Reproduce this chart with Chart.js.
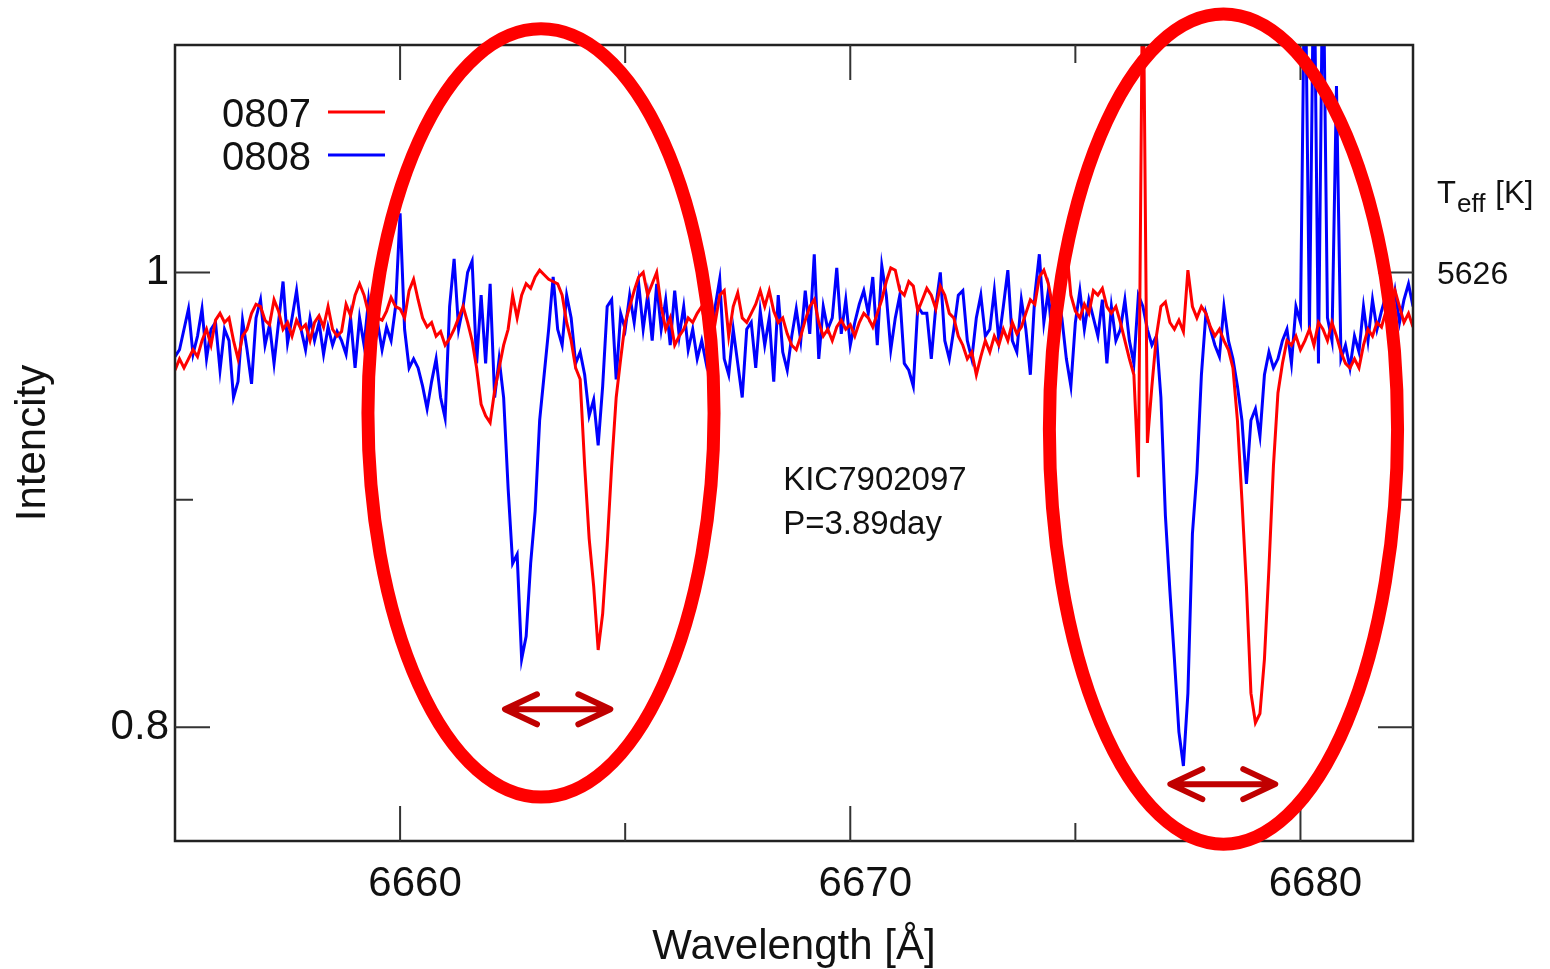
<!DOCTYPE html>
<html>
<head>
<meta charset="utf-8">
<script src="https://cdn.jsdelivr.net/npm/chart.js@4.4.1/dist/chart.umd.min.js"></script>
<style>
html,body{margin:0;padding:0;background:#fff;}
#wrap{width:1550px;height:969px;position:relative;}
</style>
</head>
<body>
<div id="wrap"><canvas id="c"></canvas></div>
<script>
// Wavelength grid of the spectra (Angstrom)
const WAVE_START = 6655.0;
const WAVE_STEP = 0.1;

// Normalised intensity, observation 0807 (red)
const series0807 = [
0.957,0.962,0.958,0.962,0.966,0.963,0.970,0.975,0.968,0.979,
0.982,0.978,0.980,0.970,0.962,0.972,0.975,0.982,0.986,0.985,
0.979,0.977,0.988,0.983,0.975,0.978,0.972,0.979,0.975,0.977,
0.970,0.978,0.981,0.976,0.985,0.975,0.972,0.974,0.986,0.981,
0.990,0.995,0.990,0.982,0.985,0.980,0.979,0.983,0.989,0.985,
0.984,0.980,0.992,0.997,0.988,0.980,0.976,0.978,0.972,0.974,
0.968,0.971,0.975,0.980,0.985,0.978,0.970,0.958,0.942,0.937,
0.934,0.948,0.958,0.968,0.975,0.990,0.980,0.990,0.995,0.993,
0.998,1.001,0.999,0.997,0.996,0.995,0.990,0.978,0.970,0.958,
0.953,0.915,0.883,0.862,0.834,0.850,0.880,0.915,0.945,0.962,
0.978,0.985,0.992,0.998,1.000,0.990,0.995,1.000,0.985,0.975,
0.980,0.968,0.972,0.975,0.980,0.978,0.982,0.985,0.975,0.983,
0.978,0.990,0.992,0.972,0.985,0.991,0.980,0.978,0.982,0.986,
0.992,0.985,0.992,0.983,0.978,0.980,0.973,0.968,0.966,0.972,
0.979,0.985,0.988,0.978,0.972,0.975,0.970,0.976,0.979,0.975,
0.977,0.972,0.978,0.982,0.980,0.976,0.982,0.988,0.996,1.002,
1.001,0.992,0.990,0.996,0.994,0.983,0.988,0.993,0.990,0.984,
0.994,0.990,0.982,0.980,0.972,0.968,0.962,0.965,0.955,0.963,
0.970,0.965,0.972,0.968,0.975,0.970,0.978,0.973,0.976,0.982,
0.988,0.986,0.998,1.001,0.995,0.985,0.992,1.004,1.012,0.990,
0.983,0.980,0.986,0.982,0.992,0.990,0.993,0.985,0.982,0.985,
0.978,0.970,0.962,0.955,0.910,1.150,0.925,0.950,0.972,0.985,
0.987,0.978,0.975,0.979,0.974,1.001,0.985,0.980,0.985,0.982,
0.976,0.972,0.975,0.970,0.966,0.958,0.935,0.900,0.862,0.815,
0.802,0.806,0.830,0.870,0.915,0.947,0.960,0.970,0.968,0.972,
0.966,0.970,0.975,0.968,0.978,0.975,0.970,0.978,0.972,0.965,
0.960,0.958,0.962,0.958,0.968,0.975,0.972,0.978,0.976,0.983,
0.986,0.992,0.985,0.978,0.982,0.976
];

// Normalised intensity, observation 0808 (blue)
const series0808 = [
0.963,0.966,0.975,0.984,0.964,0.972,0.984,0.962,0.975,0.978,
0.957,0.975,0.970,0.945,0.952,0.979,0.966,0.951,0.980,0.988,
0.968,0.977,0.960,0.978,0.996,0.969,0.980,0.992,0.975,0.966,
0.980,0.970,0.978,0.964,0.976,0.968,0.974,0.970,0.964,0.980,
0.958,0.980,0.968,0.988,0.972,0.978,0.966,0.976,0.970,0.985,
1.026,0.975,0.958,0.962,0.958,0.950,0.940,0.952,0.962,0.945,
0.936,0.985,1.006,0.975,0.985,1.000,1.005,0.960,0.990,0.960,
0.995,0.945,0.962,0.945,0.905,0.872,0.876,0.830,0.840,0.872,
0.895,0.935,0.955,0.975,0.998,0.975,0.968,0.990,0.980,0.960,
0.965,0.955,0.937,0.944,0.924,0.950,0.985,0.988,0.953,0.982,
0.975,0.990,0.978,0.995,0.975,0.990,0.970,0.995,0.975,0.988,
0.968,0.992,0.972,0.985,0.966,0.975,0.962,0.970,0.960,0.972,
0.985,0.997,0.962,0.955,0.975,0.960,0.945,0.975,0.978,0.958,
0.983,0.968,0.980,0.952,0.990,0.965,0.957,0.972,0.984,0.970,
0.992,0.973,1.008,0.962,0.985,0.975,0.980,1.002,0.973,0.988,
0.968,0.978,0.986,0.992,0.982,0.998,0.968,1.003,0.990,0.966,
0.980,0.990,0.960,0.957,0.950,0.985,0.982,0.982,0.962,0.985,
1.000,0.970,0.962,0.975,0.990,0.992,0.970,0.962,0.980,0.990,
0.972,0.975,0.992,0.970,0.985,1.001,0.970,0.965,0.988,0.975,
0.955,0.990,1.008,0.978,0.992,0.966,0.990,0.980,0.962,0.950,
0.978,0.992,0.975,0.988,0.980,0.972,0.988,0.960,0.985,0.970,
0.975,0.988,0.970,0.960,0.990,0.985,0.975,0.968,0.972,0.945,
0.893,0.860,0.830,0.798,0.783,0.815,0.885,0.912,0.955,0.982,
0.975,0.968,0.963,0.985,0.970,0.962,0.950,0.935,0.907,0.935,
0.940,0.928,0.955,0.965,0.958,0.962,0.970,0.975,0.960,0.985,
0.978,1.150,0.975,1.150,0.960,1.150,0.980,0.970,1.082,0.962,
0.968,0.958,0.972,0.965,0.985,0.970,0.988,0.975,0.983,0.990,
0.980,0.992,0.978,0.988,0.995,0.985
];

const seriesNames = ['0807', '0808'];
const seriesColors = ['#ff0000', '#0000ff'];

// Axis ranges and ticks
const X_MIN = 6655, X_MAX = 6682.5;
const Y_MIN = 0.75, Y_MAX = 1.1;
const xMajorTicks = [6660, 6670, 6680];
const xMinorTicks = [6665, 6675];
const yMajorTicks = [0.8, 1.0];
const yMinorTicks = [0.9];

// Annotations (data coordinates)
const starName = 'KIC7902097';
const periodText = 'P=3.89day';
const teffValue = '5626';
const ellipses = [
  {cx: 6663.13, cy: 0.9382, rx: 3.844, ry: 0.1689},
  {cx: 6678.29, cy: 0.9311, rx: 3.867, ry: 0.1825}
];
const arrows = [
  {x1: 6662.33, x2: 6664.67, y: 0.8079},
  {x1: 6677.11, x2: 6679.44, y: 0.7750}
];

const FONT = "'Liberation Sans', Arial, Helvetica, sans-serif";
const TXT = '#111';

function toPoints(arr) {
  return arr.map((v, i) => ({x: Math.round((WAVE_START + i * WAVE_STEP) * 100) / 100, y: v}));
}

const decor = {
  id: 'decor',
  afterDatasetsDraw(chart) {
    const ctx = chart.ctx, a = chart.chartArea;
    const xs = chart.scales.x, ys = chart.scales.y;
    ctx.save();
    // frame
    ctx.strokeStyle = '#222';
    ctx.lineWidth = 2.5;
    ctx.strokeRect(a.left, a.top, a.right - a.left, a.bottom - a.top);
    // inward ticks
    ctx.lineWidth = 2;
    ctx.strokeStyle = '#333';
    const drawX = (v, len) => {
      const p = xs.getPixelForValue(v);
      ctx.beginPath();
      ctx.moveTo(p, a.bottom); ctx.lineTo(p, a.bottom - len);
      ctx.moveTo(p, a.top); ctx.lineTo(p, a.top + len);
      ctx.stroke();
    };
    const drawY = (v, len) => {
      const p = ys.getPixelForValue(v);
      ctx.beginPath();
      ctx.moveTo(a.left, p); ctx.lineTo(a.left + len, p);
      ctx.moveTo(a.right, p); ctx.lineTo(a.right - len, p);
      ctx.stroke();
    };
    xMajorTicks.forEach(v => drawX(v, 35));
    xMinorTicks.forEach(v => drawX(v, 18));
    yMajorTicks.forEach(v => drawY(v, 35));
    yMinorTicks.forEach(v => drawY(v, 18));
    ctx.restore();
  },
  afterDraw(chart) {
    const ctx = chart.ctx, a = chart.chartArea;
    const xs = chart.scales.x, ys = chart.scales.y;
    ctx.save();
    // legend (text then line sample)
    ctx.font = '40px ' + FONT;
    ctx.fillStyle = TXT;
    ctx.textAlign = 'right';
    ctx.textBaseline = 'alphabetic';
    chart.data.datasets.forEach((ds, k) => {
      const base = 127 + k * 43;
      ctx.fillText(ds.label, 311, base);
      ctx.strokeStyle = ds.borderColor;
      ctx.lineWidth = 3;
      ctx.beginPath();
      ctx.moveTo(328, base - 15);
      ctx.lineTo(385, base - 15);
      ctx.stroke();
    });
    // star info
    ctx.textAlign = 'left';
    ctx.font = '33px ' + FONT;
    const tx = xs.getPixelForValue(6668.51);
    ctx.fillText(starName, tx, 490);
    ctx.fillText(periodText, tx, 534);
    // Teff labels on the right
    const rx = a.right + 24;
    ctx.font = '31px ' + FONT;
    ctx.fillText('T', rx, 203);
    let w = ctx.measureText('T').width;
    ctx.font = '26px ' + FONT;
    ctx.fillText('eff', rx + w + 1, 212);
    const w2 = ctx.measureText('eff').width;
    ctx.font = '31px ' + FONT;
    ctx.fillText('[K]', rx + w + 1 + w2 + 10, 203);
    ctx.font = '32px ' + FONT;
    ctx.fillText(teffValue, rx, ys.getPixelForValue(1.0) + 12);
    // ellipses
    ctx.strokeStyle = '#ff0000';
    ctx.lineWidth = 13;
    ellipses.forEach(e => {
      const cx = xs.getPixelForValue(e.cx), cy = ys.getPixelForValue(e.cy);
      const rxp = Math.abs(xs.getPixelForValue(e.cx + e.rx) - cx);
      const ryp = Math.abs(ys.getPixelForValue(e.cy + e.ry) - cy);
      ctx.beginPath();
      ctx.ellipse(cx, cy, rxp, ryp, 0, 0, Math.PI * 2);
      ctx.stroke();
    });
    // double arrows
    ctx.strokeStyle = '#c00000';
    ctx.lineWidth = 6;
    ctx.lineCap = 'round';
    ctx.lineJoin = 'round';
    arrows.forEach(r => {
      const x1 = xs.getPixelForValue(r.x1), x2 = xs.getPixelForValue(r.x2), y = ys.getPixelForValue(r.y);
      ctx.beginPath();
      ctx.moveTo(x1 + 2, y); ctx.lineTo(x2 - 2, y);
      ctx.moveTo(x1 + 32, y - 15); ctx.lineTo(x1, y); ctx.lineTo(x1 + 32, y + 15);
      ctx.moveTo(x2 - 32, y - 15); ctx.lineTo(x2, y); ctx.lineTo(x2 - 32, y + 15);
      ctx.stroke();
    });
    ctx.restore();
  }
};

new Chart(document.getElementById('c'), {
  type: 'line',
  data: {
    datasets: [
      {label: seriesNames[0], data: toPoints(series0807), borderColor: seriesColors[0], borderWidth: 3,
       pointRadius: 0, tension: 0, fill: false, clip: 0},
      {label: seriesNames[1], data: toPoints(series0808), borderColor: seriesColors[1], borderWidth: 3,
       pointRadius: 0, tension: 0, fill: false, clip: 0}
    ]
  },
  options: {
    responsive: true,
    maintainAspectRatio: false,
    animation: false,
    layout: {padding: {top: 45, right: 137, left: 0, bottom: 0}},
    plugins: {legend: {display: false}, tooltip: {enabled: false}, title: {display: false}},
    scales: {
      x: {
        type: 'linear', min: X_MIN, max: X_MAX,
        afterFit: s => { s.height = 128; },
        grid: {display: false, drawTicks: false},
        border: {display: false},
        ticks: {stepSize: 10, includeBounds: false, autoSkip: false, maxRotation: 0,
                padding: 18, labelOffset: 15, color: TXT, font: {family: FONT, size: 42},
                callback: v => String(v)},
        title: {display: true, text: 'Wavelength [Å]', color: TXT, font: {family: FONT, size: 42},
                padding: {top: 0, bottom: -4}}
      },
      y: {
        type: 'linear', min: Y_MIN, max: Y_MAX,
        afterFit: s => { s.width = 175; },
        grid: {display: false, drawTicks: false},
        border: {display: false},
        ticks: {stepSize: 0.2, includeBounds: false, padding: 6, color: TXT, font: {family: FONT, size: 42},
                callback: v => String(Math.round(v * 10) / 10)},
        title: {display: true, text: 'Intencity', color: TXT, font: {family: FONT, size: 42},
                padding: {top: 8, bottom: 0}}
      }
    }
  },
  plugins: [decor]
});
</script>
</body>
</html>
